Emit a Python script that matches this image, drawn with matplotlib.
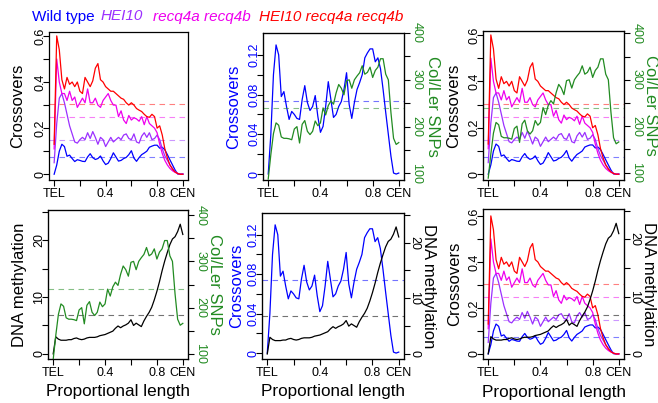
"""
plot.py - Crossover, Col/Ler SNP and DNA methylation profiles along chromosome arms.
"""
import numpy as np
import matplotlib.pyplot as plt

plt.rcParams['font.family'] = ['Liberation Sans', 'DejaVu Sans']

# proportional position along the arm, TEL (0) to CEN (1)
pos = np.linspace(0, 1, 51)

wild_type = [0.0, 0.04, 0.10, 0.13, 0.12, 0.078, 0.083, 0.068, 0.055, 0.063,
             0.060, 0.056, 0.055, 0.075, 0.089, 0.072, 0.064, 0.068, 0.079, 0.058,
             0.042, 0.048, 0.068, 0.093, 0.075, 0.057, 0.060, 0.068, 0.073, 0.085,
             0.102, 0.070, 0.056, 0.072, 0.085, 0.092, 0.100, 0.117, 0.122, 0.126,
             0.126, 0.113, 0.117, 0.106, 0.085, 0.062, 0.040, 0.018, 0.001, 0.0, 0.001]
hei10 = [0.05, 0.22, 0.33, 0.35, 0.31, 0.26, 0.21, 0.175, 0.14, 0.135,
         0.15, 0.16, 0.15, 0.18, 0.155, 0.185, 0.16, 0.13, 0.16, 0.15,
         0.12, 0.14, 0.16, 0.14, 0.15, 0.16, 0.15, 0.17, 0.175, 0.155,
         0.15, 0.175, 0.14, 0.135, 0.165, 0.18, 0.16, 0.18, 0.15, 0.155,
         0.17, 0.15, 0.11, 0.08, 0.06, 0.04, 0.025, 0.012, 0.004, 0.0, 0.0]
recq4 = [0.11, 0.50, 0.40, 0.35, 0.35, 0.32, 0.36, 0.32, 0.335, 0.29,
         0.31, 0.33, 0.31, 0.37, 0.31, 0.31, 0.33, 0.30, 0.29, 0.32,
         0.335, 0.35, 0.32, 0.30, 0.30, 0.25, 0.275, 0.235, 0.22, 0.255,
         0.235, 0.245, 0.24, 0.23, 0.25, 0.215, 0.25, 0.22, 0.21, 0.20,
         0.18, 0.13, 0.09, 0.06, 0.04, 0.025, 0.015, 0.008, 0.003, 0.0, 0.0]
hei10_recq4 = [0.13, 0.60, 0.54, 0.41, 0.37, 0.42, 0.39, 0.40, 0.38, 0.40,
               0.36, 0.35, 0.42, 0.40, 0.38, 0.405, 0.46, 0.48, 0.41, 0.40,
               0.38, 0.37, 0.36, 0.36, 0.35, 0.34, 0.33, 0.325, 0.31, 0.30,
               0.31, 0.30, 0.285, 0.278, 0.272, 0.26, 0.25, 0.247, 0.26, 0.25,
               0.20, 0.21, 0.17, 0.11, 0.07, 0.04, 0.022, 0.01, 0.003, 0.0, 0.0]
col_ler_snps = [88, 140, 185, 208, 203, 178, 175, 175, 174, 172,
                195, 200, 165, 205, 213, 190, 183, 190, 212, 202,
                208, 240, 225, 245, 255, 248, 272, 290, 282, 268,
                298, 300, 282, 300, 308, 315, 330, 312, 316, 327,
                305, 320, 327, 345, 345, 312, 300, 230, 175, 162, 166]
methylation = [0.0, 3.0, 2.6, 2.4, 2.4, 2.4, 2.5, 2.5, 2.7, 2.8,
               2.6, 2.5, 2.6, 2.8, 2.9, 2.9, 2.9, 3.0, 3.2, 3.3,
               3.4, 3.6, 3.8, 4.0, 4.5, 4.9, 4.6, 4.9, 5.1, 5.4,
               6.0, 5.0, 5.4, 5.1, 4.8, 5.8, 6.6, 7.3, 8.2, 9.5,
               11.0, 12.7, 14.6, 16.3, 17.8, 19.2, 20.2, 20.6, 21.5, 22.8, 21.0]

wild_type_mean = 0.074
hei10_mean = 0.147
recq4_mean = 0.247
hei10_recq4_mean = 0.303
snps_mean = 240
methylation_mean = 6.8

BLUE, PURPLE, MAGENTA, RED = '#0000FF', '#9B30FF', '#EE00EE', '#FF0000'
GREEN, BLACK = '#228B22', '#000000'
DASH = (0, (5, 4))

W, H = 658, 403
fig = plt.figure(figsize=(W / 100, H / 100), dpi=100)


def new_axes(left, top, right, bottom):
    ax = fig.add_axes([left / W, 1 - bottom / H, (right - left) / W, (bottom - top) / H])
    ax.set_xlim(-0.04, 1.04)
    ax.set_xticks([0, 0.2, 0.4, 0.6, 0.8, 1.0])
    ax.set_xticklabels(['TEL', '', '0.4', '', '0.8', 'CEN'])
    ax.tick_params(direction='out', length=4, width=0.8, labelsize=9, pad=2)
    for sp in ax.spines.values():
        sp.set_linewidth(0.9)
    return ax


def y_axis(ax, lim, ticks, labels, color, rot, pad):
    ax.set_ylim(*lim)
    ax.set_yticks(ticks)
    ax.set_yticklabels(labels, rotation=rot, va='center')
    ax.tick_params(axis='y', labelcolor=color, direction='out', length=4,
                   width=0.8, labelsize=9, pad=pad)


def left_label(ax, text, x, color=BLACK):
    ax.set_ylabel(text, fontsize=12, color=color, va='center')
    ax.yaxis.set_label_coords(x, 0.5)


def right_label(ax, text, x, color=BLACK):
    ax.set_ylabel(text, fontsize=12, color=color, rotation=-90, va='center')
    ax.yaxis.set_label_coords(x, 0.5)


def bottom_label(ax):
    ax.set_xlabel('Proportional length', fontsize=12.3, va='center')
    ax.xaxis.set_label_coords(0.5, -0.22)


def crossover_axis(ax, lim=(-0.025, 0.617)):
    y_axis(ax, lim, [0, 0.1, 0.2, 0.3, 0.4, 0.5, 0.6],
           ['0', '', '0.2', '', '0.4', '', '0.6'], BLACK, 90, -2)


def wt_axis(ax):
    y_axis(ax, (-0.006, 0.142), [0, 0.02, 0.04, 0.06, 0.08, 0.10, 0.12],
           ['0', '', '0.04', '', '0.08', '', '0.12'], BLUE, 90, -2)


def snp_axis(ax, lim):
    y_axis(ax, lim, [100, 150, 200, 250, 300, 350, 400],
           ['100', '', '200', '', '300', '', '400'], GREEN, -90, 0.5)


def meth_axis(ax, rot, pad, lim=(-0.9, 25.3)):
    y_axis(ax, lim, [0, 5, 10, 15, 20, 25], ['0', '', '10', '', '20', ''], BLACK, rot, pad)


def draw_crossovers(ax):
    groups = [(wild_type, wild_type_mean, BLUE), (hei10, hei10_mean, PURPLE),
              (recq4, recq4_mean, MAGENTA), (hei10_recq4, hei10_recq4_mean, RED)]
    for _, mean, color in groups:
        ax.axhline(mean, color=color, alpha=0.5, lw=0.8, ls=DASH)
    for series, _, color in groups:
        ax.plot(pos, series, color=color, lw=0.9)


def draw_series(ax, series, mean, color):
    ax.axhline(mean, color=color, alpha=0.55, lw=0.8, ls=DASH)
    ax.plot(pos, series, color=color, lw=0.9)


# top left: all four genotypes
ax = new_axes(49, 32, 188, 180)
crossover_axis(ax)
left_label(ax, 'Crossovers', -0.223)
draw_crossovers(ax)

# top middle: wild type vs SNP density
ax = new_axes(263, 33, 404, 180)
wt_axis(ax)
left_label(ax, 'Crossovers', -0.205, BLUE)
draw_series(ax, wild_type, wild_type_mean, BLUE)
ax2 = ax.twinx()
snp_axis(ax2, (86, 400))
right_label(ax2, 'Col/Ler SNPs', 1.2, GREEN)
draw_series(ax2, col_ler_snps, snps_mean, GREEN)

# top right: genotypes vs SNP density
ax = new_axes(483, 31, 624, 180)
crossover_axis(ax)
left_label(ax, 'Crossovers', -0.205)
draw_crossovers(ax)
ax2 = ax.twinx()
snp_axis(ax2, (84, 405))
right_label(ax2, 'Col/Ler SNPs', 1.19, GREEN)
draw_series(ax2, col_ler_snps, snps_mean, GREEN)

# bottom left: methylation vs SNP density
ax = new_axes(48, 210, 188, 359)
meth_axis(ax, 90, -2)
left_label(ax, 'DNA methylation', -0.207)
draw_series(ax, methylation, methylation_mean, BLACK)
bottom_label(ax)
ax2 = ax.twinx()
snp_axis(ax2, (89, 411))
right_label(ax2, 'Col/Ler SNPs', 1.19, GREEN)
draw_series(ax2, col_ler_snps, snps_mean, GREEN)

# bottom middle: wild type vs methylation
ax = new_axes(262, 213, 404, 359)
wt_axis(ax)
left_label(ax, 'Crossovers', -0.18, BLUE)
draw_series(ax, wild_type, wild_type_mean, BLUE)
bottom_label(ax)
ax2 = ax.twinx()
meth_axis(ax2, -90, -1)
right_label(ax2, 'DNA methylation', 1.175)
draw_series(ax2, methylation, methylation_mean, BLACK)

# bottom right: genotypes vs methylation
ax = new_axes(483, 209, 624, 359)
crossover_axis(ax, lim=(-0.022, 0.63))
left_label(ax, 'Crossovers', -0.2)
draw_crossovers(ax)
bottom_label(ax)
ax2 = ax.twinx()
meth_axis(ax2, -90, -1)
right_label(ax2, 'DNA methylation', 1.175)
draw_series(ax2, methylation, methylation_mean, BLACK)

# genotype key across the top
key_y = 1 - 16.5 / H
fig.text(32 / W, key_y, 'Wild type', color=BLUE, fontsize=11, va='center')
fig.text(101 / W, key_y, 'HEI10', color=PURPLE, fontsize=11, style='italic', va='center')
fig.text(153 / W, key_y, 'recq4a recq4b', color=MAGENTA, fontsize=11, style='italic', va='center')
fig.text(259 / W, key_y, 'HEI10 recq4a recq4b', color=RED, fontsize=11, style='italic', va='center')

fig.savefig('out.png', dpi=100)
plt.close(fig)
